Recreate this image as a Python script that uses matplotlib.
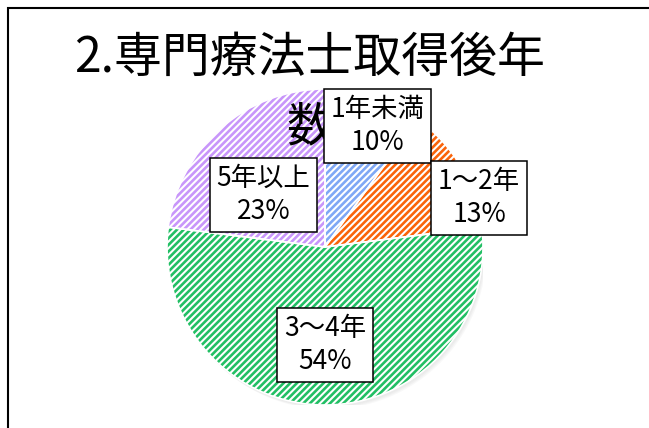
import matplotlib
matplotlib.use("Agg")
import matplotlib.pyplot as plt
from matplotlib.patches import Rectangle, Circle

plt.rcParams['font.family'] = ['Noto Sans CJK JP', 'DejaVu Sans']
plt.rcParams['hatch.linewidth'] = 1.9

# data
title = "2.専門療法士取得後年\n数"
categories = ["1年未満", "1〜2年", "3〜4年", "5年以上"]
values = [10, 13, 54, 23]
colors = ["#7FA8F5", "#FA640A", "#22BF64", "#C896FA"]

# label box centres (data coords of the pie axes)
label_pos = [(0.33, 0.766), (0.975, 0.31), (0.0, -0.62), (-0.39, 0.33)]

W, H = 649, 428
fig = plt.figure(figsize=(W / 100, H / 100), dpi=100)

cx, cy, r = 325, 247, 158
ax = fig.add_axes([(cx - r) / W, (H - cy - r) / H, 2 * r / W, 2 * r / H])
ax.set_xlim(-1, 1)
ax.set_ylim(-1, 1)
ax.axis("off")

# soft shadow under the pie
for i, a in enumerate([0.05, 0.05, 0.05]):
    ax.add_patch(Circle((0.01 + 0.006 * i, -0.015 - 0.006 * i), 1.0, color="gray",
                        alpha=a, lw=0, zorder=0))
ax.add_patch(Circle((0, 0), 1.0, color="white", lw=0, zorder=0.5))

wedges, _ = ax.pie(values, startangle=90, counterclock=False, radius=1.0,
                   wedgeprops=dict(facecolor="white", linewidth=0))
for w, c in zip(wedges, colors):
    w.set_edgecolor(c)
    w.set_hatch("/////")
    w.set_zorder(1)
# white separators
sep, _ = ax.pie(values, startangle=90, counterclock=False, radius=1.0,
                wedgeprops=dict(fill=False, edgecolor="white", linewidth=1.2))
for w in sep:
    w.set_zorder(2)
ax.set_xlim(-1, 1)
ax.set_ylim(-1, 1)

ax.text(310 / W, 1 - 93 / H, title, transform=fig.transFigure, ha="center", va="center",
        fontsize=34.5, linespacing=1.5, zorder=4)

for (x, y), cat, v in zip(label_pos, categories, values):
    ax.text(x, y, f"{cat}\n{v}%", ha="center", va="center", fontsize=19,
            linespacing=1.3, zorder=5,
            bbox=dict(boxstyle="square,pad=0.25", facecolor="white",
                      edgecolor="black", linewidth=1.1))

fig.add_artist(Rectangle((8 / W, -0.1), 2, (H - 8) / H + 0.1, transform=fig.transFigure,
                         fill=False, edgecolor="black", linewidth=1.5))

fig.savefig("out.png", dpi=100)
